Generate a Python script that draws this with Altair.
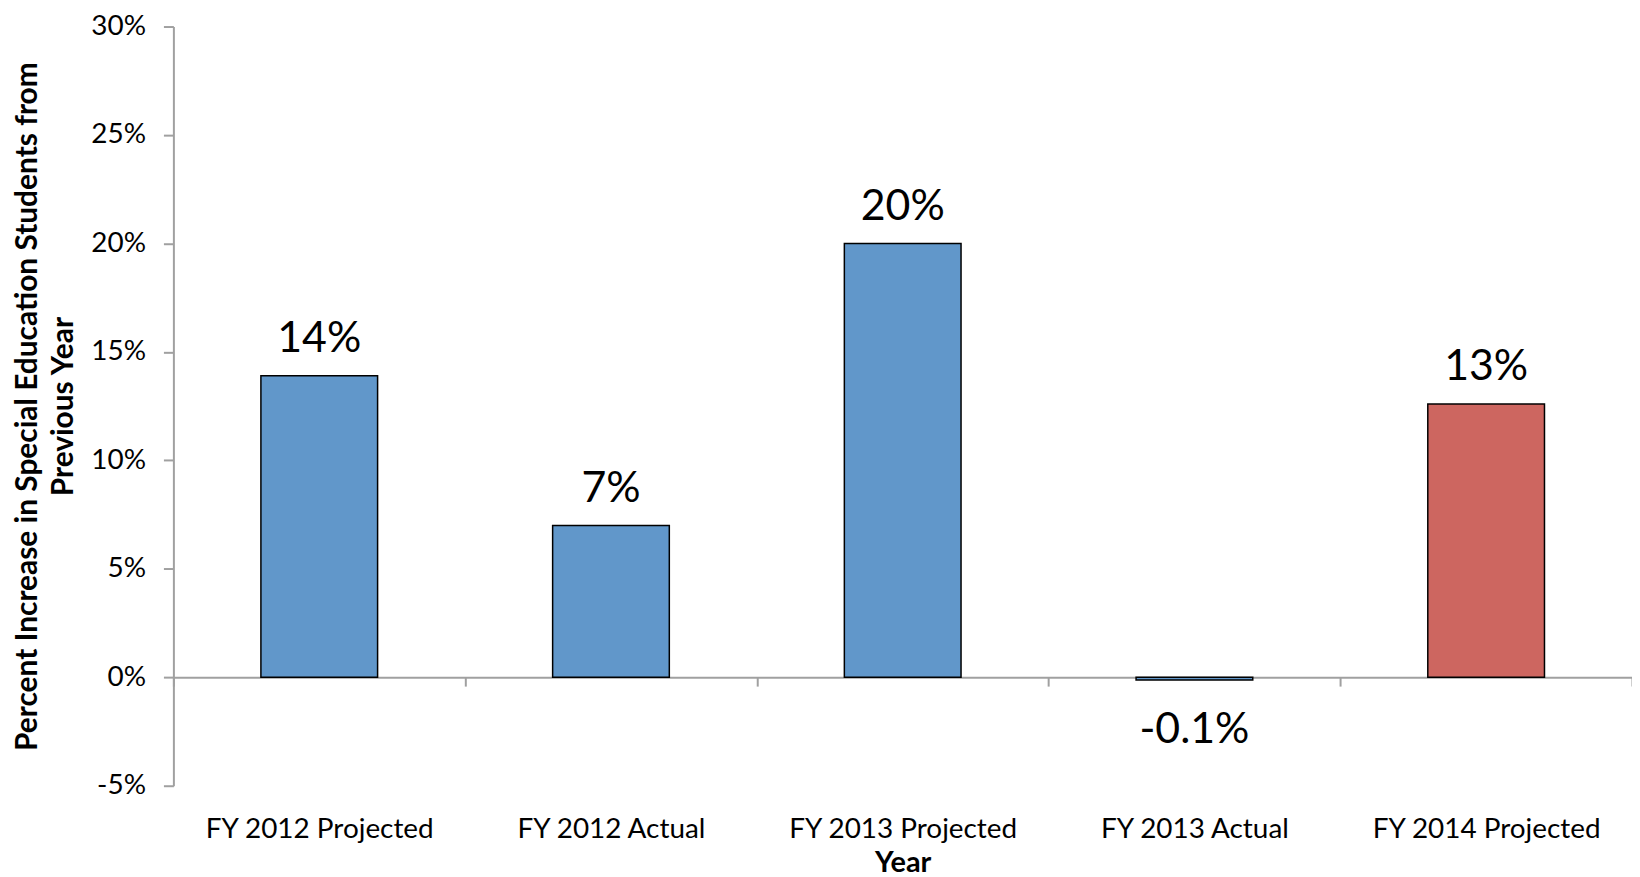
import altair as alt
import pandas as pd

categories = ["FY 2012 Projected", "FY 2012 Actual", "FY 2013 Projected", "FY 2013 Actual", "FY 2014 Projected"]
values = [0.139, 0.070, 0.200, -0.0012, 0.126]
labels = ["14%", "7%", "20%", "-0.1%", "13%"]
colors = ["#6197CA", "#6197CA", "#6197CA", "#6197CA", "#CD6660"]

df = pd.DataFrame({"cat": categories, "val": values, "label": labels, "color": colors})

FONT = "Lato"

x = alt.X("cat:N", sort=categories,
          scale=alt.Scale(paddingInner=0, paddingOuter=0),
          axis=alt.Axis(title="Year", titleFont=FONT, titleFontSize=29, titleFontWeight="bold",
                        titleColor="black", titlePadding=5,
                        labelFont=FONT, labelFontSize=28, labelColor="black", labelAngle=0,
                        labelLimit=400, labelPadding=130, offset=-109, tickBand="extent",
                        domainColor="#A0A0A0", domainWidth=2, tickColor="#A0A0A0",
                        tickWidth=2, tickSize=9))
y = alt.Y("val:Q",
          scale=alt.Scale(domain=[-0.05, 0.30], nice=False, zero=False),
          axis=alt.Axis(title=["Percent Increase in Special Education Students from", "Previous  Year"],
                        titleFont=FONT, titleFontSize=30, titleFontWeight="bold", titleColor="black",
                        titleX=-146, titleBaseline="middle", titleLineHeight=36,
                        format=".0%", labelExpr="replace(datum.label, '\u2212', '-')",
                        values=[-0.05, 0, 0.05, 0.10, 0.15, 0.20, 0.25, 0.30],
                        labelFont=FONT, labelFontSize=28, labelColor="black", labelPadding=18,
                        domainColor="#A0A0A0", domainWidth=2, tickColor="#A0A0A0",
                        tickWidth=2, tickSize=10, grid=False))

bars = alt.Chart(df).mark_bar(stroke="black", strokeWidth=1.5,
                              width=alt.RelativeBandSize(0.4)).encode(
    x=x, y=y, y2=alt.datum(0), color=alt.Color("color:N", scale=None)
)

pos_text = alt.Chart(df).transform_filter("datum.val >= 0").mark_text(
    font=FONT, fontSize=43, color="black", baseline="middle", dy=-37
).encode(x=alt.X("cat:N", sort=categories), y="val:Q", text="label:N")

neg_text = alt.Chart(df).transform_filter("datum.val < 0").mark_text(
    font=FONT, fontSize=43, color="black", baseline="middle", dy=50
).encode(x=alt.X("cat:N", sort=categories), y="val:Q", text="label:N")

chart = alt.layer(bars, pos_text, neg_text).properties(
    width=1464, height=762,
    autosize=alt.AutoSizeParams(type="none"),
    padding={"left": 166, "top": 17, "right": 0, "bottom": 90},
).configure_view(stroke=None)

chart.save("out.html", embed_options={"renderer": "svg", "actions": False})
